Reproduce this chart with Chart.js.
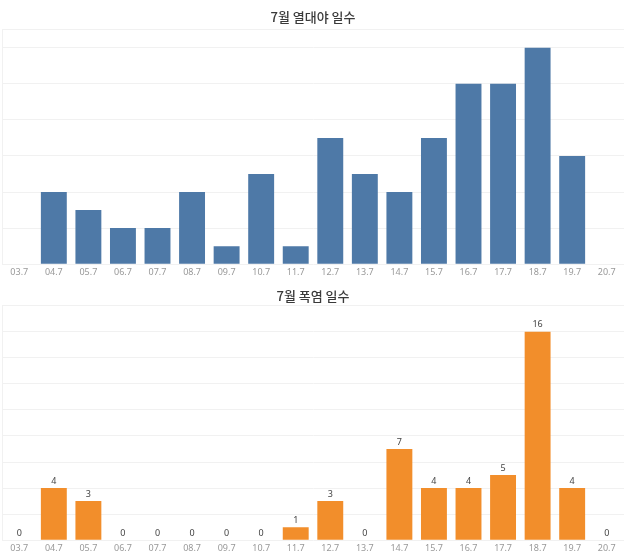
<!DOCTYPE html>
<html>
<head>
<meta charset="utf-8">
<script src="https://cdn.jsdelivr.net/npm/chart.js@4.4.1/dist/chart.umd.min.js"></script>
<style>
    html, body { margin: 0; padding: 0; background: #fff; }
    .box { position: absolute; left: 0; width: 630px; }
    #topBox { top: 0; height: 281px; }
    #bottomBox { top: 280px; height: 277px; }
</style>
</head>
<body>
<div class="box" id="topBox"><canvas id="nightChart"></canvas></div>
<div class="box" id="bottomBox"><canvas id="heatChart"></canvas></div>
<script>
const years = ['03.7', '04.7', '05.7', '06.7', '07.7', '08.7', '09.7', '10.7', '11.7',
    '12.7', '13.7', '14.7', '15.7', '16.7', '17.7', '18.7', '19.7', '20.7'];
const tropicalNights = [0, 4, 3, 2, 2, 4, 1, 5, 1, 7, 5, 4, 7, 10, 10, 12, 6, 0];
const heatwaveDays = [0, 4, 3, 0, 0, 0, 0, 0, 1, 3, 0, 7, 4, 4, 5, 16, 4, 0];
const nightTicks = [0, 2, 4, 6, 8, 10, 12, 13];
const heatTicks = [0, 2, 4, 6, 8, 10, 12, 14, 16, 18];

const gridColor = '#f1f1f1';

// value labels above the bars (bottom chart only)
const barLabels = {
    id: 'barLabels',
    afterDatasetsDraw(chart, args, opts) {
        if (!opts.show) return;
        const ctx = chart.ctx;
        const meta = chart.getDatasetMeta(0);
        ctx.save();
        ctx.font = '9px "Noto Sans", sans-serif';
        ctx.fillStyle = '#444';
        ctx.textAlign = 'center';
        ctx.textBaseline = 'middle';
        meta.data.forEach((bar, i) => {
            ctx.fillText(chart.data.datasets[0].data[i], bar.x, bar.y - 7);
        });
        ctx.restore();
    }
};

function makeChart(id, title, values, color, ticks, max, titlePad, showLabels) {
    const ctx = document.getElementById(id).getContext('2d');
    return new Chart(ctx, {
        type: 'bar',
        data: {
            labels: years,
            datasets: [{
                data: values,
                backgroundColor: color,
                borderWidth: 0,
                categoryPercentage: 1,
                barPercentage: 0.75
            }]
        },
        options: {
            responsive: true,
            maintainAspectRatio: false,
            animation: false,
            layout: { padding: { left: 2, right: 6, bottom: 0 } },
            plugins: {
                legend: { display: false },
                tooltip: { enabled: false },
                title: {
                    display: true,
                    text: title,
                    color: '#3a3a3a',
                    font: { size: 13, weight: 500, family: '"Noto Sans CJK KR", sans-serif' },
                    padding: titlePad
                },
                barLabels: { show: showLabels }
            },
            scales: {
                x: {
                    grid: { display: false, drawTicks: false },
                    border: { display: false },
                    ticks: {
                        color: '#999',
                        font: { size: 9, family: '"Noto Sans", sans-serif' },
                        padding: 3,
                        maxRotation: 0,
                        autoSkip: false
                    }
                },
                y: {
                    min: 0,
                    max: max,
                    afterBuildTicks: axis => {
                        axis.ticks = ticks.map(v => ({ value: v }));
                    },
                    grid: { color: gridColor, drawTicks: false },
                    border: { display: true, color: gridColor },
                    ticks: { display: false }
                }
            }
        },
        plugins: [barLabels]
    });
}

makeChart('nightChart', '7월 열대야 일수', tropicalNights, '#4e79a7', nightTicks, 13,
    { top: 9, bottom: 5 }, false);
makeChart('heatChart', '7월 폭염 일수', heatwaveDays, '#f28e2b', heatTicks, 18,
    { top: 8, bottom: 2 }, true);
</script>
</body>
</html>
